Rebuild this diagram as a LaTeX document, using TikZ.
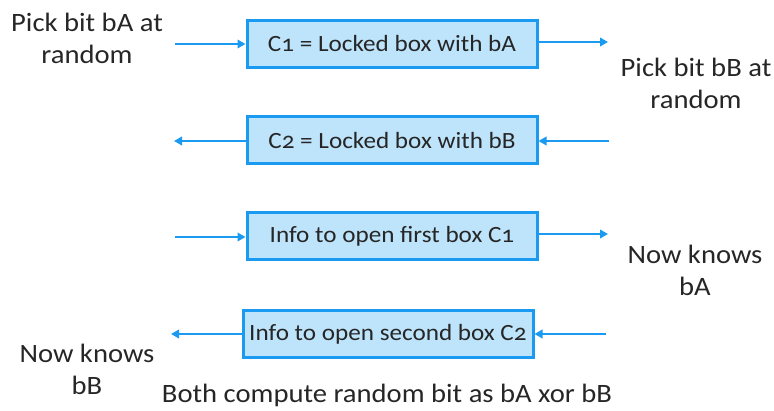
\documentclass[tikz,border=0pt]{standalone}
\usepackage{fontspec}
\setmainfont[Numbers=OldStyle,FakeStretch=1.08]{Carlito}
\usetikzlibrary{arrows.meta}
\definecolor{lineblue}{HTML}{1A9AF0}
\definecolor{fillblue}{HTML}{BEE4FB}
\tikzset{
  msgbox/.style={draw=lineblue, fill=fillblue, line width=3pt, minimum width=290pt, minimum height=47pt, inner sep=0pt, font=\fontsize{23.3}{28}\selectfont, text=black!85},
  msg/.style={draw=lineblue, line width=2.6pt, -{Triangle[length=8pt,width=8.5pt]}},
  lbl/.style={align=center, font=\fontsize{26.5}{32}\selectfont, text=black!85}
}
\begin{document}
\begin{tikzpicture}[x=1pt,y=-1pt]
\useasboundingbox (0,0) rectangle (774,411);
\node[msgbox] (b1) at (392,44) {C1 = Locked box with bA};
\node[msgbox] (b2) at (392,140.5) {C2 = Locked box with bB};
\node[msgbox] (b3) at (392,236.5) {Info to open first box C1};
\node[msgbox] (b4) at (388,334.5) {Info to open second box C2};
\coordinate (l1) at (175,44);
\coordinate (r1) at (608,42);
\coordinate (l2) at (174,141);
\coordinate (r2) at (609,141);
\coordinate (l3) at (175,237);
\coordinate (r3) at (608,234);
\coordinate (l4) at (171,334);
\coordinate (r4) at (606,334);
\draw[msg] (l1) -- (b1.west |- l1);
\draw[msg] (b1.east |- r1) -- (r1);
\draw[msg] (b2.west |- l2) -- (l2);
\draw[msg] (r2) -- (b2.east |- r2);
\draw[msg] (l3) -- (b3.west |- l3);
\draw[msg] (b3.east |- r3) -- (r3);
\draw[msg] (b4.west |- l4) -- (l4);
\draw[msg] (r4) -- (b4.east |- r4);
\node[lbl] (pa) at (87,38) {Pick bit bA at\\random};
\node[lbl] (pb) at (696,83) {Pick bit bB at\\random};
\node[lbl] (ka) at (695,270) {Now knows\\bA};
\node[lbl] (kb) at (87,369) {Now knows\\bB};
\node[lbl, anchor=base] (bc) at (387,403) {Both compute random bit as bA xor bB};
\end{tikzpicture}
\end{document}
